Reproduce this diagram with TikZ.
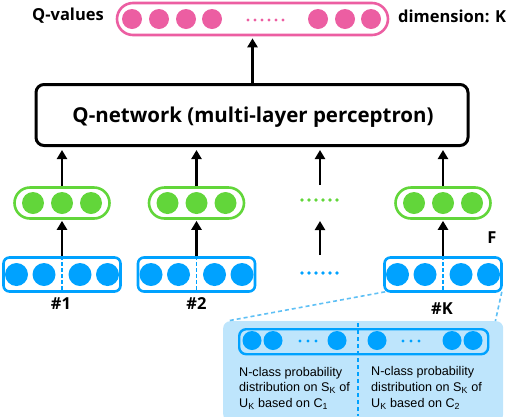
\documentclass[tikz,border=0pt]{standalone}
\usepackage{fontspec}
\setmainfont{Open Sans}
\newfontfamily\calfont{Liberation Sans}
\usetikzlibrary{arrows.meta}
\definecolor{qpink}{RGB}{236,94,162}
\definecolor{qgreen}{RGB}{98,214,58}
\definecolor{qblue}{RGB}{0,162,255}
\definecolor{qlight}{RGB}{190,229,252}
\definecolor{qdash}{RGB}{95,192,245}
\tikzset{
  arr/.style={line width=2.6pt,-{Triangle[width=10pt,length=9pt]}},
  pillbox/.style={draw=#1,line width=2.6pt,rectangle,inner sep=0pt},
  dotnode/.style={circle,fill=#1,inner sep=0pt},
  lbl/.style={font=\bfseries\fontsize{16.5}{18}\selectfont,inner sep=0pt},
  caltext/.style={font=\calfont\fontsize{12.6}{15.6}\selectfont,align=left,anchor=west,inner sep=0pt},
}
\begin{document}
\begin{tikzpicture}[x=1pt,y=-1pt]
\useasboundingbox (0,0) rectangle (511,416);

% Q-values
\node[pillbox=qpink,minimum width=271pt,minimum height=32pt,rounded corners=16pt] (qv) at (252.5,19) {};
\foreach \x [count=\i] in {132,159,186,212,318,345,371}
  \node[dotnode=qpink,minimum size=20pt] (qc\i) at (\x,19) {};
\foreach \x in {248,255,262,269,276,283}
  \fill[qpink] (\x,20) circle (1.7pt);
\node[lbl,anchor=center] (qlab) at (68,16) {Q-values};
\node[lbl,anchor=west] (dlab) at (398,16) {dimension: K};

% Q-network
\node[draw,line width=3pt,rounded corners=8pt,minimum width=432pt,minimum height=61pt,inner sep=0pt] (net) at (252,115) {};
\node[font=\bfseries\fontsize{20.5}{22}\selectfont,inner sep=0pt] (nettxt) at (253,117) {Q-network (multi-layer perceptron)};
\draw[arr] (net.north -| qv.south) -- ([yshift=-2pt]qv.south);

% columns
\foreach \c/\cx in {1/62,2/196.5,k/443}{
  \node[pillbox=qgreen,minimum width=95pt,minimum height=31pt,rounded corners=15.5pt] (g\c) at (\cx,203) {};
  \foreach \o [count=\j] in {-29,0,29}
    \node[dotnode=qgreen,minimum size=22pt] (g\c d\j) at (\cx+\o,203) {};
  \node[pillbox=qblue,minimum width=117pt,minimum height=34pt,rounded corners=6pt] (b\c) at (\cx,274.5) {};
  \foreach \o [count=\j] in {-45.5,-18,18,45.5}
    \node[dotnode=qblue,minimum size=23pt] (b\c d\j) at (\cx+\o,274.5) {};
  \draw[qblue,line width=1.8pt,dash pattern=on 3.5pt off 2.5pt] (b\c.north) -- (b\c.south);
  \draw[arr] (b\c.north) -- ([yshift=-1pt]g\c.south);
  \draw[arr] (g\c.north) -- ([yshift=-3pt]net.south -| g\c.north);
}
% dotted column
\coordinate (gdots) at (320,200);
\coordinate (bdots) at (320,273);
\foreach \x in {302,309,316,323,330,337}{
  \fill[qgreen] (\x,200) circle (1.9pt);
  \fill[qblue] (\x,273) circle (1.9pt);
}
\coordinate (blo) at (320,255);
\coordinate (bhi) at (320,221);
\coordinate (glo) at (320,185);
\coordinate (ghi) at (320,150);
\draw[arr] (blo) -- (bhi);
\draw[arr] (glo) -- (ghi);

\node[lbl] (n1) at (61,304) {\#1};
\node[lbl] (n2) at (196.5,304) {\#2};
\node[lbl] (nk) at (442,309) {\#K};
\node[lbl] (F) at (492,238) {F};

% callout
\node[fill=qlight,rounded corners=7pt,minimum width=280pt,minimum height=100pt,inner sep=0pt,anchor=north west] (cal) at (223,321) {};
\draw[qdash,line width=1.6pt,dash pattern=on 4pt off 3pt] ([xshift=2pt,yshift=1pt]bk.south west) -- ([xshift=4pt]cal.north west);
\draw[qdash,line width=1.6pt,dash pattern=on 4pt off 3pt] ([xshift=-1pt,yshift=1pt]bk.south east) -- ([xshift=-8pt]cal.north east);
\coordinate (dtop) at (358,323);
\coordinate (dbot) at (358,416);
\draw[qblue,line width=1.6pt,dash pattern=on 4pt off 3pt] (dtop) -- (dbot);
\node[pillbox=qblue,line width=2.4pt,minimum width=249pt,minimum height=25pt,rounded corners=7pt,anchor=north west] (inner) at (238,328) {};
\foreach \x [count=\i] in {252,273,337,377,452,473}
  \node[dotnode=qblue,minimum size=19pt] (ic\i) at (\x,340.5) {};
\foreach \x in {300,308,316,403,411,419}
  \fill[qblue] (\x,341) circle (1.6pt);
\node[caltext] (t1) at (239,388) {N-class probability\\distribution on S\textsubscript{K} of\\U\textsubscript{K} based on C\textsubscript{1}};
\node[caltext] (t2) at (371,388) {N-class probability\\distribution on S\textsubscript{K} of\\U\textsubscript{K} based on C\textsubscript{2}};
\end{tikzpicture}
\end{document}
